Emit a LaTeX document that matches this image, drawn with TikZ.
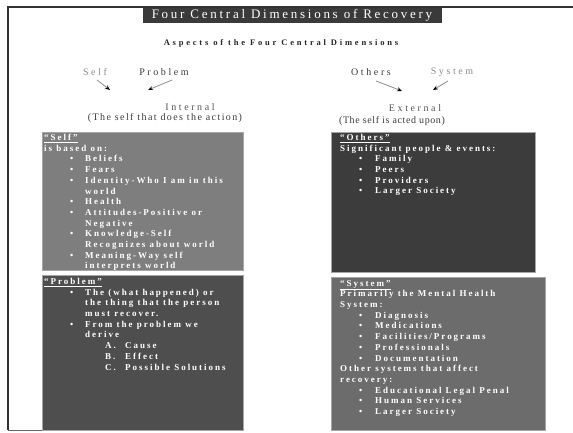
\documentclass[tikz,border=0pt]{standalone}
\usepackage{fontspec}
\setmainfont{Liberation Serif}
\newfontfamily\boxfont{Liberation Serif}[LetterSpace=22]
\newfontfamily\ttlfont{Liberation Serif}[LetterSpace=21]
\newfontfamily\subfont{Liberation Serif}[LetterSpace=33]
\newfontfamily\lblfont{Liberation Serif}[LetterSpace=26]
\newfontfamily\parfont{Liberation Serif}[LetterSpace=14]
\newfontfamily\parbfont{Liberation Serif}[LetterSpace=6]
\usetikzlibrary{arrows.meta}
\definecolor{titlegray}{HTML}{3A3A3A}
\definecolor{selfgray}{HTML}{7E7E7E}
\definecolor{probgray}{HTML}{4E4E4E}
\definecolor{othgray}{HTML}{3C3C3C}
\definecolor{sysgray}{HTML}{6C6C6C}
\definecolor{lightlbl}{HTML}{8C8C8C}
\definecolor{darklbl}{HTML}{3A3A3A}
\definecolor{midlbl}{HTML}{555555}
\newcommand{\bl}{\hspace*{26pt}\makebox[15pt][l]{•}}
\newcommand{\cl}{\hspace*{41pt}}
\newcommand{\sbl}{\hspace*{19pt}\makebox[16pt][l]{•}}
\newcommand{\lettered}[2]{\hspace*{61pt}\makebox[20pt][l]{#1}#2}
\tikzset{
  panel/.style={draw=black!35, line width=0.6pt, anchor=north west, inner sep=0pt},
  paneltext/.style={anchor=north west, inner sep=0pt, align=left, text=white,
    font=\boxfont\bfseries\fontsize{9}{10.7}\selectfont},
  toplbl/.style={font=\lblfont\fontsize{10}{12}\selectfont, inner sep=0pt},
  sidelbl/.style={font=\lblfont\fontsize{10}{12}\selectfont, inner sep=0pt, text=midlbl},
  parlbl/.style={font=\parfont\fontsize{10}{12}\selectfont, inner sep=0pt, text=darklbl},
  conn/.style={draw=black!45, line width=0.8pt, -{Stealth[length=5pt,width=4pt,black]}}
}
\begin{document}
\begin{tikzpicture}[x=1pt,y=-1pt]
\useasboundingbox (0,0) rectangle (573,433);
% frame
\draw[black!80, line width=1.2pt] (8,430) -- (8,7) -- (573,7);
\draw[black!60, line width=0.8pt] (8,430) -- (42,430);
% title
\node[fill=titlegray, text=white, inner sep=0pt, minimum width=299pt, minimum height=15pt,
  font=\ttlfont\fontsize{13}{14}\selectfont] (title) at (292,15.5) {Four Central Dimensions of Recovery};
\node[font=\subfont\bfseries\fontsize{8.5}{10}\selectfont, inner sep=0pt, text=black!85] (sub) at (281,43) {Aspects of the Four Central Dimensions};
% top labels
\node[toplbl, text=lightlbl] (selfl) at (95,72) {Self};
\node[toplbl, text=darklbl] (probl) at (164,72) {Problem};
\node[toplbl, text=darklbl] (othl) at (371,72) {Others};
\node[toplbl, text=lightlbl] (sysl) at (452,72) {System};
\coordinate (selfs) at (97,80);
\coordinate (selfe) at (110,90);
\coordinate (probs) at (172,80);
\coordinate (probe) at (148,90);
\coordinate (oths) at (376,81);
\coordinate (othe) at (402,91);
\coordinate (syss) at (448,81);
\coordinate (syse) at (433,90);
\draw[conn] (selfs) -- (selfe);
\draw[conn] (probs) -- (probe);
\draw[conn] (oths) -- (othe);
\draw[conn] (syss) -- (syse);
\node[sidelbl] (intl) at (190,107) {Internal};
\node[parlbl] (intp) at (165,118) {(The self that does the action)};
\node[sidelbl] (extl) at (415,108) {External};
\node[parlbl, font=\parbfont\fontsize{10}{12}\selectfont] (extp) at (392,121) {(The self is acted upon)};
% panels
\node[panel, fill=selfgray, minimum width=201pt, minimum height=138pt] (selfbox) at (42,132) {};
\node[panel, fill=probgray, minimum width=201pt, minimum height=155pt] (probbox) at (42,275) {};
\node[panel, fill=othgray, minimum width=204pt, minimum height=140pt] (othbox) at (331,132) {};
\node[panel, fill=sysgray, minimum width=214pt, minimum height=153pt] (sysbox) at (331,277) {};
\node[paneltext] (selft) at ([xshift=2pt,yshift=-2pt]selfbox.north west) {%
\underline{“Self”}\\
is based on:\\
\bl Beliefs\\
\bl Fears\\
\bl Identity-Who I am in this\\
\cl world\\
\bl Health\\
\bl Attitudes-Positive or\\
\cl Negative\\
\bl Knowledge-Self\\
\cl Recognizes about world\\
\bl Meaning-Way self\\
\cl interprets world};
\node[paneltext] (probt) at ([xshift=2pt,yshift=-3pt]probbox.north west) {%
\underline{“Problem”}\\
\bl The (what happened) or\\
\cl the thing that the person\\
\cl must recover.\\
\bl From the problem we\\
\cl derive\\
\lettered{A.}{Cause}\\
\lettered{B.}{Effect}\\
\lettered{C.}{Possible Solutions}};
\node[paneltext] (otht) at ([xshift=9pt,yshift=-2pt]othbox.north west) {%
\underline{“Others”}\\
Significant people \& events:\\
\sbl Family\\
\sbl Peers\\
\sbl Providers\\
\sbl Larger Society};
\node[paneltext] (syst) at ([xshift=9pt,yshift=-3pt]sysbox.north west) {%
\underline{“System”}\\
Primarily the Mental Health\\
System:\\
\sbl Diagnosis\\
\sbl Medications\\
\sbl Facilities/Programs\\
\sbl Professionals\\
\sbl Documentation\\
Other systems that affect\\
recovery:\\
\sbl Educational Legal Penal\\
\sbl Human Services\\
\sbl Larger Society};
\end{tikzpicture}
\end{document}
